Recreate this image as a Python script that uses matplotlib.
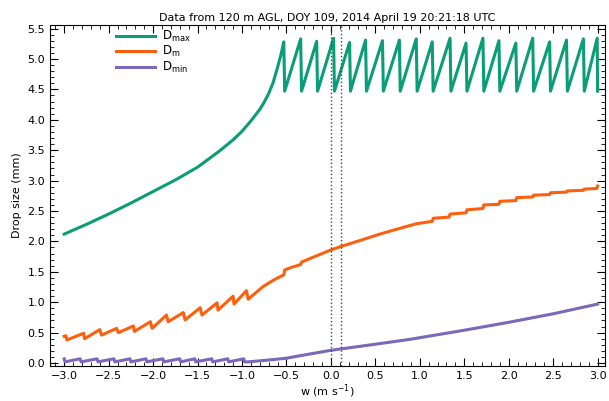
import numpy as np
import matplotlib
matplotlib.use('Agg')
import matplotlib.pyplot as plt
from matplotlib.ticker import MultipleLocator

# D_max: smooth rise, then sawtooth between troughs and peaks
dmax_smooth_x = [-3.0, -2.75, -2.5, -2.25, -2.0, -1.75, -1.5, -1.25, -1.1, -1.0,
                 -0.9, -0.8, -0.75, -0.7, -0.65, -0.6, -0.56]
dmax_smooth_y = [2.12, 2.28, 2.45, 2.63, 2.82, 3.01, 3.22, 3.49, 3.67, 3.81,
                 3.98, 4.17, 4.29, 4.43, 4.61, 4.86, 5.08]
dmax_peak_x = [-0.53, -0.34, -0.16, 0.03, 0.21, 0.39, 0.58, 0.77, 0.96, 1.14,
               1.34, 1.52, 1.71, 1.89, 2.08, 2.27, 2.46, 2.65, 2.84, 2.995]
dmax_peak_y = [5.28, 5.33, 5.29, 5.34, 5.27, 5.31, 5.30, 5.31, 5.33, 5.28,
               5.34, 5.26, 5.34, 5.30, 5.26, 5.34, 5.28, 5.31, 5.33, 5.34]
dmax_trough_x = [-0.52, -0.33, -0.15, 0.04, 0.22, 0.40, 0.59, 0.78, 0.97, 1.15,
                 1.35, 1.53, 1.72, 1.90, 2.09, 2.28, 2.47, 2.66, 2.85, 3.0]
dmax_trough_y = [4.47] * 20

# D_m
dm_x = [-3.0, -2.98, -2.97, -2.78, -2.77, -2.60, -2.58, -2.41, -2.39, -2.22, -2.21,
        -2.03, -2.01, -1.85, -1.83, -1.66, -1.64, -1.47, -1.45, -1.28, -1.27,
        -1.10, -1.09, -0.95, -0.93, -0.85, -0.76, -0.65, -0.53, -0.52, -0.45,
        -0.34, -0.33, -0.2, 0.0, 0.12, 0.36, 0.55, 0.74, 0.96, 1.14, 1.15,
        1.33, 1.34, 1.52, 1.53, 1.71, 1.72, 1.89, 1.90, 2.08, 2.09, 2.27, 2.28,
        2.46, 2.47, 2.65, 2.66, 2.84, 2.85, 2.99, 3.0]
dm_y = [0.44, 0.45, 0.38, 0.49, 0.40, 0.55, 0.46, 0.57, 0.50, 0.61, 0.52,
        0.68, 0.57, 0.79, 0.68, 0.83, 0.71, 0.91, 0.79, 0.99, 0.87,
        1.10, 0.97, 1.19, 1.05, 1.15, 1.26, 1.36, 1.45, 1.53, 1.57,
        1.62, 1.66, 1.74, 1.86, 1.92, 2.03, 2.12, 2.20, 2.29, 2.33, 2.38,
        2.40, 2.45, 2.47, 2.52, 2.54, 2.60, 2.61, 2.66, 2.67, 2.72, 2.73, 2.76,
        2.77, 2.80, 2.81, 2.83, 2.84, 2.86, 2.87, 2.91]

# D_min
dmin_x = [-3.0, -2.99, -2.82, -2.81, -2.63, -2.62, -2.44, -2.43, -2.26, -2.25,
          -2.08, -2.07, -1.89, -1.88, -1.70, -1.69, -1.53, -1.52, -1.34, -1.33,
          -1.16, -1.15, -0.98, -0.97, -0.93, -0.7, -0.5, -0.35, 0.0, 0.5, 0.89,
          1.5, 2.0, 2.5, 3.0]
dmin_y = [0.07, 0.02, 0.07, 0.02, 0.07, 0.02, 0.07, 0.02, 0.07, 0.02,
          0.07, 0.02, 0.07, 0.02, 0.07, 0.02, 0.07, 0.02, 0.07, 0.02,
          0.07, 0.02, 0.07, 0.02, 0.02, 0.05, 0.08, 0.12, 0.21, 0.31, 0.39,
          0.54, 0.67, 0.81, 0.97]

vlines_x = [0.0, 0.11]

# build D_max polyline from the smooth part and the peak/trough lists
dmax_x = list(dmax_smooth_x)
dmax_y = list(dmax_smooth_y)
for px, py, tx, ty in zip(dmax_peak_x, dmax_peak_y, dmax_trough_x, dmax_trough_y):
    dmax_x += [px, tx]
    dmax_y += [py, ty]

plt.rcParams['font.family'] = ['DejaVu Sans']
plt.rcParams['mathtext.default'] = 'regular'

fig = plt.figure(figsize=(6.09, 4.01), dpi=100)
ax = fig.add_axes([0.082, 0.087, 0.911, 0.851])

ax.plot(dmax_x, dmax_y, color='#0a9e76', lw=2.2, label=r'D$_{max}$')
ax.plot(dm_x, dm_y, color='#fe5f0e', lw=2.2, label=r'D$_{m}$')
ax.plot(dmin_x, dmin_y, color='#7a68bb', lw=2.2, label=r'D$_{min}$')

for xv in vlines_x:
    ax.axvline(xv, color='#444444', ls=':', lw=1)

ax.set_xlim(-3.16, 3.08)
ax.set_ylim(-0.05, 5.56)
ax.xaxis.set_major_locator(MultipleLocator(0.5))
ax.xaxis.set_minor_locator(MultipleLocator(0.1))
ax.yaxis.set_major_locator(MultipleLocator(0.5))
ax.yaxis.set_minor_locator(MultipleLocator(0.1))
ax.tick_params(which='both', direction='in', top=True, right=True, labelsize=8)
ax.tick_params(which='major', length=6)
ax.tick_params(which='minor', length=3)

ax.set_xlabel(r'w (m s$^{-1}$)', fontsize=8, labelpad=1)
ax.set_ylabel('Drop size (mm)', fontsize=8)
ax.set_title('Data from 120 m AGL, DOY 109, 2014 April 19 20:21:18 UTC', fontsize=8, pad=3)

ax.legend(loc='upper left', bbox_to_anchor=(0.1, 1.02), frameon=False,
          fontsize=8.5, handlelength=3.3, handletextpad=0.6, labelspacing=0.05)

fig.savefig('out.png', dpi=100)
